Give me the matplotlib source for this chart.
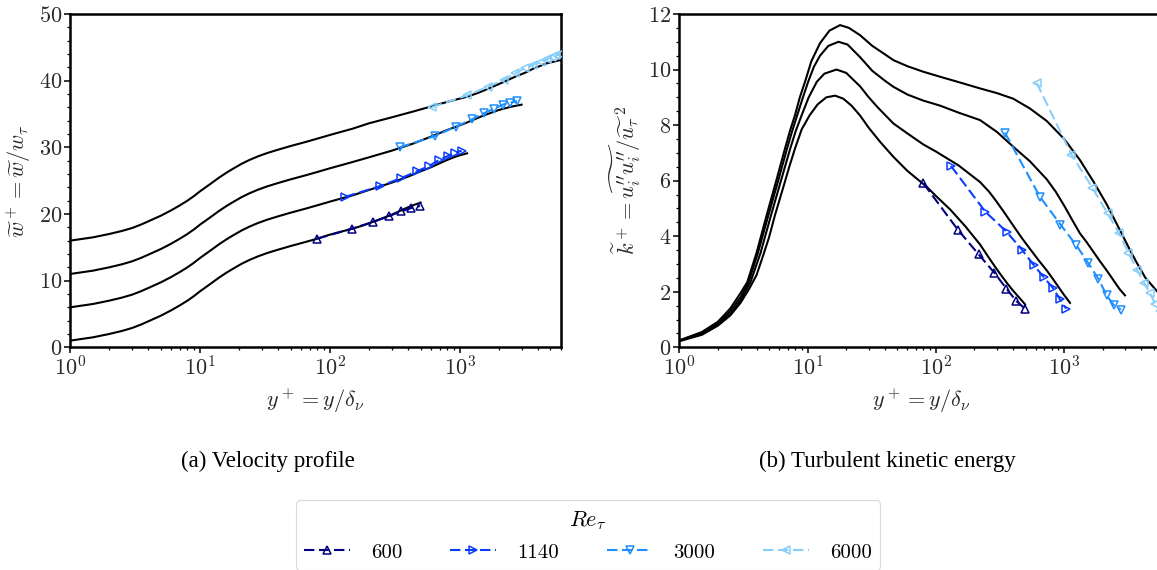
import numpy as np
import matplotlib
matplotlib.use('Agg')
import matplotlib.pyplot as plt
from matplotlib.ticker import AutoMinorLocator
from matplotlib.lines import Line2D

plt.rcParams['font.family'] = 'serif'
plt.rcParams['font.serif'] = ['cmr10', 'DejaVu Serif']
plt.rcParams['mathtext.fontset'] = 'cm'
plt.rcParams['axes.formatter.use_mathtext'] = True
plt.rcParams['axes.unicode_minus'] = False

##### Cases
re_tau = [600, 1140, 3000, 6000]
colours = ['navy', '#0a3cff', '#1e8fff', '#87cefa']
markers = ['^', '>', 'v', '<']
shift = 5.0  # velocity profiles are shifted up by 5 per case

##### Reference (black) velocity profiles, unshifted
yp_ref_w_600 = [1, 1.5, 2, 2.5, 3, 3.5, 4, 5, 6, 7, 8, 9, 10, 12, 14, 16, 18, 21, 24, 28, 33, 40, 50, 65, 80,
                100, 125, 150, 175, 200, 250, 300, 350, 400, 450, 500]
w_ref_600 = [1.0, 1.5, 2.0, 2.45, 2.9, 3.4, 3.9, 4.75, 5.55, 6.3, 7.0, 7.7, 8.4, 9.5, 10.45, 11.2, 11.8, 12.55, 13.1,
             13.65, 14.15, 14.65, 15.2, 15.8, 16.3, 16.9, 17.4, 17.8, 18.2, 18.6, 19.3, 19.9, 20.5, 21.0, 21.4, 21.7]

yp_ref_w_1140 = [1, 1.5, 2, 2.5, 3, 3.5, 4, 5, 6, 7, 8, 9, 10, 12, 14, 16, 18, 21, 24, 28, 33, 40, 50, 65, 80,
                 100, 150, 200, 300, 400, 500, 600, 700, 800, 900, 1000, 1140]
w_ref_1140 = [1.0, 1.5, 2.0, 2.45, 2.9, 3.4, 3.9, 4.75, 5.55, 6.3, 7.0, 7.7, 8.4, 9.5, 10.45, 11.2, 11.8, 12.55, 13.1,
              13.65, 14.15, 14.65, 15.2, 15.8, 16.3, 16.85, 17.8, 18.6, 19.7, 20.6, 21.4, 22.0, 22.6, 23.1, 23.5, 23.8,
              24.1]

yp_ref_w_3000 = [1, 1.5, 2, 2.5, 3, 3.5, 4, 5, 6, 7, 8, 9, 10, 12, 14, 16, 18, 21, 24, 28, 33, 40, 50, 65, 80,
                 100, 150, 200, 300, 444, 600, 803, 1100, 1452, 1700, 2000, 2500, 3000]
w_ref_3000 = [1.0, 1.5, 2.0, 2.45, 2.9, 3.4, 3.9, 4.75, 5.55, 6.3, 7.0, 7.7, 8.4, 9.5, 10.45, 11.2, 11.8, 12.55, 13.1,
              13.65, 14.15, 14.65, 15.2, 15.8, 16.3, 16.85, 17.8, 18.5, 19.5, 20.6, 21.6, 22.6, 23.6, 24.6, 25.1, 25.6,
              26.1, 26.4]

yp_ref_w_6000 = [1, 1.5, 2, 2.5, 3, 3.5, 4, 5, 6, 7, 8, 9, 10, 12, 14, 16, 18, 21, 24, 28, 33, 40, 50, 65, 80,
                 100, 150, 200, 300, 444, 646, 850, 1146, 1400, 1660, 2180, 2680, 3200, 3690, 4680, 6000]
w_ref_6000 = [1.0, 1.5, 2.0, 2.45, 2.9, 3.4, 3.9, 4.75, 5.55, 6.3, 7.0, 7.7, 8.4, 9.5, 10.45, 11.2, 11.8, 12.55, 13.1,
              13.65, 14.15, 14.65, 15.2, 15.8, 16.3, 16.85, 17.8, 18.6, 19.5, 20.4, 21.3, 21.95, 22.6, 23.2, 23.8, 24.8,
              25.6, 26.2, 26.8, 27.6, 28.1]

##### Reference (black) TKE profiles
yp_ref_k_600 = [1, 1.5, 2, 2.5, 3, 3.5, 4, 4.5, 5, 5.57, 6.5, 7.2, 7.98, 9, 10.4, 12, 14, 16.4, 19, 22, 25.6, 30,
                36.7, 46.6, 60, 84.8, 100, 130, 170, 221, 270, 316, 360, 401, 450, 495]
k_ref_600 = [0.22, 0.45, 0.78, 1.15, 1.6, 2.1, 2.6, 3.3, 3.95, 4.76, 5.8, 6.5, 7.16, 7.85, 8.36, 8.75, 9.0, 9.06,
             8.95, 8.7, 8.35, 7.9, 7.4, 6.86, 6.35, 5.78, 5.45, 4.95, 4.35, 3.7, 3.1, 2.65, 2.3, 2.03, 1.77, 1.55]

yp_ref_k_1140 = [1, 1.5, 2, 2.5, 3, 3.59, 4.3, 5.19, 6.2, 7.33, 8.1, 9.0, 10.2, 11.8, 13.5, 16.8, 20, 25.6, 30, 35,
                 46.6, 60, 80, 100, 150, 221, 260, 300, 350, 401, 470, 550, 640, 731, 820, 900, 1000, 1110]
k_ref_1140 = [0.23, 0.48, 0.82, 1.2, 1.68, 2.35, 3.4, 4.76, 6.0, 7.16, 7.8, 8.36, 9.0, 9.56, 9.85, 10.0, 9.88, 9.4,
              9.0, 8.65, 8.06, 7.7, 7.3, 7.05, 6.55, 5.95, 5.6, 5.22, 4.78, 4.38, 3.92, 3.5, 3.1, 2.77, 2.45, 2.18,
              1.88, 1.6]

yp_ref_k_3000 = [1, 1.5, 2, 2.5, 3, 3.47, 4.1, 4.95, 5.9, 6.92, 7.6, 8.31, 9.2, 10.1, 11.2, 12.5, 14.5, 17.4, 20.5,
                 25.6, 32, 40, 46.6, 60, 80, 108, 150, 221, 300, 401, 540, 731, 860, 1000, 1150, 1328, 1500, 1700,
                 1900, 2144, 2450, 2700, 2978]
k_ref_3000 = [0.24, 0.51, 0.87, 1.3, 1.8, 2.35, 3.4, 4.76, 6.0, 7.16, 7.8, 8.36, 9.0, 9.56, 10.1, 10.5, 10.85, 11.0,
              10.9, 10.45, 9.95, 9.6, 9.38, 9.1, 8.88, 8.7, 8.45, 8.18, 7.75, 7.22, 6.7, 6.05, 5.6, 5.1, 4.6, 4.1,
              3.78, 3.42, 3.1, 2.77, 2.38, 2.1, 1.87]

yp_ref_k_6000 = [1, 1.5, 2, 2.5, 3, 3.39, 4.0, 4.8, 5.7, 6.67, 7.3, 7.98, 8.7, 9.55, 10.7, 12.5, 14.8, 17.9, 21, 25.6,
                 32, 40, 46.6, 60, 80, 108, 150, 221, 300, 401, 540, 731, 1000, 1328, 1700, 2144, 2500, 2890, 3300,
                 3673, 4300, 5290, 6000]
k_ref_6000 = [0.25, 0.55, 0.92, 1.4, 1.95, 2.35, 3.4, 4.76, 6.0, 7.16, 7.8, 8.36, 9.0, 9.56, 10.3, 10.95, 11.4, 11.6,
              11.5, 11.24, 10.85, 10.55, 10.34, 10.12, 9.92, 9.74, 9.55, 9.32, 9.15, 8.95, 8.6, 8.15, 7.5, 6.74, 5.95,
              5.15, 4.55, 3.98, 3.45, 3.05, 2.5, 2.02, 1.8]

##### Model data (coloured, dashed + markers)
yp_600 = [80, 148, 215, 286, 355, 425, 495]
w_600 = [16.3, 17.8, 18.8, 19.7, 20.4, 20.9, 21.2]
k_600 = [5.9, 4.24, 3.35, 2.68, 2.11, 1.66, 1.39]

yp_1140 = [131, 243, 356, 467, 582, 692, 812, 920, 1036]
w_1140 = [17.57, 19.17, 20.4, 21.4, 22.2, 23.1, 23.7, 24.2, 24.5]
k_1140 = [6.53, 4.88, 4.16, 3.52, 2.95, 2.53, 2.15, 1.75, 1.39]

yp_3000 = [345, 647, 935, 1245, 1530, 1850, 2145, 2445, 2770]
w_3000 = [20.0, 21.7, 23.1, 24.2, 25.1, 25.8, 26.4, 26.7, 26.9]
k_3000 = [7.73, 5.42, 4.42, 3.67, 3.05, 2.46, 1.87, 1.51, 1.36]

yp_6000 = [610, 1140, 1660, 2180, 2680, 3170, 3690, 4200, 4680, 5120, 5540, 5890]
w_6000 = [21.0, 22.8, 24.1, 25.1, 26.1, 26.9, 27.4, 27.8, 28.2, 28.5, 28.8, 29.0]
k_6000 = [9.52, 6.94, 5.74, 4.82, 4.12, 3.4, 2.8, 2.32, 1.94, 1.57, 1.3, 1.1]

ref_w = [(yp_ref_w_600, w_ref_600), (yp_ref_w_1140, w_ref_1140),
         (yp_ref_w_3000, w_ref_3000), (yp_ref_w_6000, w_ref_6000)]
ref_k = [(yp_ref_k_600, k_ref_600), (yp_ref_k_1140, k_ref_1140),
         (yp_ref_k_3000, k_ref_3000), (yp_ref_k_6000, k_ref_6000)]
mod_yp = [yp_600, yp_1140, yp_3000, yp_6000]
mod_w = [w_600, w_1140, w_3000, w_6000]
mod_k = [k_600, k_1140, k_3000, k_6000]


W, H = 1157, 570
fig = plt.figure(figsize=(W / 100, H / 100), dpi=100)

# axes placed in pixel terms of the original figure (right panel runs off the edge)
ax1 = fig.add_axes([70.2 / W, 1 - 347.3 / H, 490.5 / W, 333.3 / H])
ax2 = fig.add_axes([679.3 / W, 1 - 347.3 / H, 484.7 / W, 333.3 / H])

line_kw = dict(ls='--', lw=1.5, ms=5.5, mfc='none', mew=1.1, dashes=(5, 2.2))

for i in range(len(re_tau)):
    off = shift * i
    yp, w = ref_w[i]
    ax1.plot(yp, np.array(w) + off, color='k', lw=1.5, zorder=2)
    ax1.plot(mod_yp[i], np.array(mod_w[i]) + off, color=colours[i],
             marker=markers[i], zorder=3, **line_kw)

    yp, k = ref_k[i]
    ax2.plot(yp, k, color='k', lw=1.5, zorder=2)
    ax2.plot(mod_yp[i], mod_k[i], color=colours[i],
             marker=markers[i], zorder=3, **line_kw)

for ax in (ax1, ax2):
    ax.set_xscale('log')
    ax.set_xlim(1, 6000)
    ax.yaxis.set_minor_locator(AutoMinorLocator(5 if ax is ax1 else 4))
    ax.tick_params(which='major', direction='out', length=4, width=1.1,
                   labelsize=16, labelcolor='#2a2a2a', pad=2)
    ax.tick_params(which='minor', direction='out', length=2.2, width=0.9)
    for sp in ax.spines.values():
        sp.set_linewidth(1.8)
    ax.set_xlabel(r'$y^+ = y/\delta_\nu$', fontsize=16, labelpad=5, color='#2a2a2a')

ax1.set_ylim(0, 50)
ax1.set_yticks([0, 10, 20, 30, 40, 50])
ax1.set_ylabel(r'$\widetilde{w}^+ = \widetilde{w}/w_\tau$', fontsize=16, labelpad=4, color='#2a2a2a')

ax2.set_ylim(0, 12)
ax2.set_yticks([0, 2, 4, 6, 8, 10, 12])
ax2.set_ylabel(r'$\widetilde{k}^+ = \widetilde{u^{\prime\prime}_i u^{\prime\prime}_i}/\widetilde{u_\tau}^{\,2}$',
               fontsize=16, labelpad=3, color='#2a2a2a')

# sub captions
cap_kw = dict(ha='center', va='center', fontsize=16.5, family='Liberation Serif')
fig.text(268 / W, 1 - 461 / H, '(a) Velocity profile', **cap_kw)
fig.text(887 / W, 1 - 461 / H, '(b) Turbulent kinetic energy', **cap_kw)

handles = [Line2D([], [], color=c, marker=m, **line_kw) for c, m in zip(colours, markers)]
labels = [str(r) for r in re_tau]
leg = fig.legend(handles, labels, loc='upper center', bbox_to_anchor=(588 / W, 1 - 490 / H),
                 ncol=4, title=r'$Re_\tau$', fontsize=15, title_fontsize=16,
                 handlelength=2.2, columnspacing=2.3, handletextpad=1.0,
                 numpoints=1, borderpad=0.4, labelspacing=0.55,
                 frameon=True, fancybox=True, edgecolor='#d0d0d0')
leg.get_frame().set_linewidth(0.8)

fig.savefig('out.png', dpi=100)
